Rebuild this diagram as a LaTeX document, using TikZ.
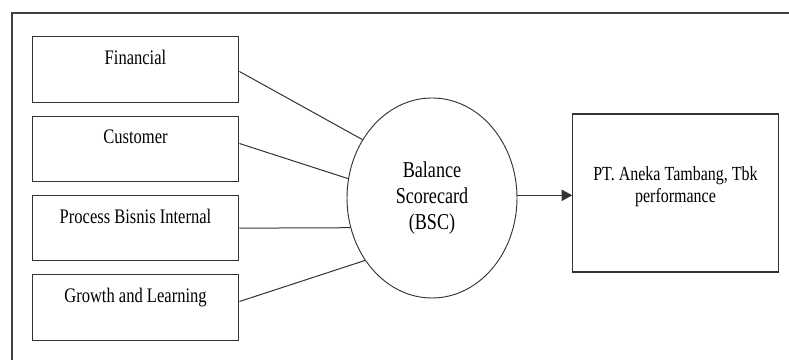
\documentclass[tikz,border=0pt]{standalone}
\usepackage{fontspec}
\setmainfont{Liberation Serif}[FakeStretch=0.8]
\usepackage{tikz}
\usepackage{xcolor}
\usetikzlibrary{shapes.geometric, arrows, positioning, arrows.meta}

\begin{document}
\begin{tikzpicture}[
  x=0.75pt, y=0.75pt,
  node distance=9.6pt,
  perspective/.style={rectangle, draw=black!80, line width=0.9pt, minimum width=155pt, minimum height=49pt, text height=11pt, text depth=18.5pt, font=\fontsize{15.5pt}{18pt}\selectfont},
  tool/.style={ellipse, draw=black!80, line width=0.7pt, inner sep=0pt, minimum width=127.5pt, minimum height=150pt, align=center, font=\fontsize{17pt}{19.5pt}\selectfont},
  result/.style={rectangle, draw=black!80, line width=0.9pt, minimum width=154pt, minimum height=118.5pt, align=center, font=\fontsize{15pt}{16.5pt}\selectfont},
  line/.style={draw=black!80, line width=0.75pt},
  frame/.style={draw=black!75, line width=0.9pt}
]
  \useasboundingbox (0,0) rectangle (789,360);

  % outer frame, only top and left edges show
  \coordinate (frametop) at (789,347);
  \coordinate (framecorner) at (12,347);
  \coordinate (framebottom) at (12,0);
  \draw [frame] (frametop) -- (framecorner) -- (framebottom);

  \node [perspective] (financial) at (135.5,290.5) {Financial};
  \node [perspective, below=of financial] (customer) {Customer};
  \node [perspective, below=of customer] (process) {Process Bisnis Internal};
  \node [perspective, below=of process] (growth) {Growth and Learning};

  \node [tool] (bsc) at (432,162) {Balance\\Scorecard\\(BSC)};
  \node [result] (perf) at (675.5,167) {PT. Aneka Tambang, Tbk\\performance\\[-4pt]\mbox{}};

  \draw [line] ([yshift=-1.5pt]financial.east) -- (bsc.140);
  \draw [line] ([yshift=4pt]customer.east) -- (bsc.167);
  \draw [line] (process.east) -- (bsc.200);
  \draw [line] ([yshift=4.5pt]growth.east) -- (bsc.223);

  \draw [line, -{Triangle[length=8pt, width=8.5pt]}] ([yshift=2pt]bsc.east) -- ([yshift=2pt]bsc.east -| perf.west);
\end{tikzpicture}
\end{document}
